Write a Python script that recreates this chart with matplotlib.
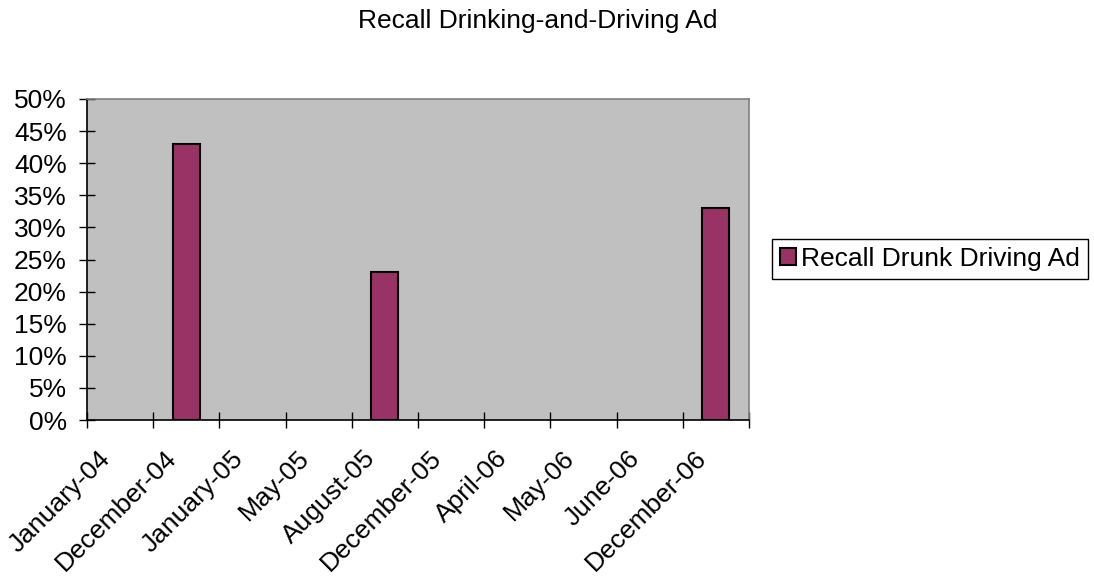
import numpy as np
import matplotlib.pyplot as plt
from matplotlib.ticker import PercentFormatter

# chart data
months = ["January-04", "December-04", "January-05", "May-05", "August-05",
          "December-05", "April-06", "May-06", "June-06", "December-06"]
recall = [None, 0.43, None, None, 0.23, None, None, None, None, 0.33]

plt.rcParams["font.family"] = ["Liberation Sans", "DejaVu Sans"]
FS = 19

fig = plt.figure(figsize=(10.94, 5.81), dpi=100)
ax = fig.add_axes([87 / 1094, 1 - 420 / 581, 662 / 1094, 321 / 581])
ax.set_facecolor("#C0C0C0")

# only draw the months that have a value
xs = [i for i, v in enumerate(recall) if v is not None]
hs = [v for v in recall if v is not None]
ax.bar(xs, hs, width=0.41, color="#993366", edgecolor="black",
       linewidth=1.5, label="Recall Drunk Driving Ad", zorder=3)

ax.set_xlim(-0.5, len(months) - 0.5)
ax.set_ylim(0, 0.5)

# y axis
ax.set_yticks(np.arange(0, 0.51, 0.05))
ax.yaxis.set_major_formatter(PercentFormatter(1.0, decimals=0))
ax.tick_params(axis="y", direction="inout", length=12, width=1,
               labelsize=FS, pad=8.5)

# x axis: ticks on category edges, labels near the centers
ax.set_xticks(np.arange(-0.5, len(months)), labels=[""] * (len(months) + 1))
ax.set_xticks(np.arange(len(months)) - 0.2, labels=months, minor=True)
ax.tick_params(axis="x", which="major", direction="inout", length=12, width=1)
ax.tick_params(axis="x", which="minor", length=0, labelsize=FS, pad=25)
for lbl in ax.get_xticklabels(minor=True):
    lbl.set_rotation(45)
    lbl.set_ha("right")
    lbl.set_rotation_mode("anchor")
    lbl.set_va("center")

# Excel-style frame
ax.spines["left"].set_color("black")
ax.spines["bottom"].set_color("black")
ax.spines["top"].set_color("#808080")
ax.spines["right"].set_color("#808080")
for s in ax.spines.values():
    s.set_linewidth(1.2)

fig.text(0.492, 1 - 21 / 581, "Recall Drinking-and-Driving Ad",
         ha="center", va="center", fontsize=FS)

leg = fig.legend(loc="center left", bbox_to_anchor=(772 / 1094, 1 - 259 / 581),
                 fontsize=FS, frameon=True, fancybox=False, framealpha=1,
                 edgecolor="black", handlelength=0.6, handleheight=0.6,
                 handletextpad=0.2, borderpad=0.3, borderaxespad=0)
leg.get_frame().set_linewidth(1)

fig.savefig("out.png", dpi=100)
